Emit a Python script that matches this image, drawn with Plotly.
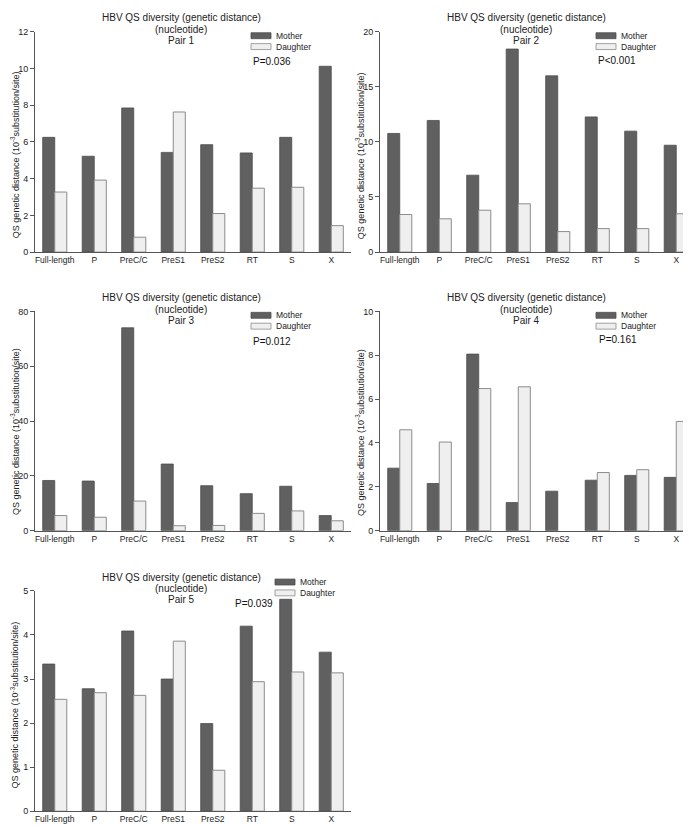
import plotly.graph_objects as go

# data (10^-3 substitution/site)
categories = ["Full-length", "P", "PreC/C", "PreS1", "PreS2", "RT", "S", "X"]

pair1_mother = [6.25, 5.22, 7.85, 5.43, 5.85, 5.40, 6.25, 10.12]
pair1_daughter = [3.27, 3.92, 0.81, 7.63, 2.10, 3.48, 3.53, 1.44]

pair2_mother = [10.77, 11.95, 6.98, 18.43, 16.00, 12.27, 10.98, 9.70]
pair2_daughter = [3.41, 3.02, 3.80, 4.38, 1.86, 2.13, 2.13, 3.48]

pair3_mother = [18.3, 18.1, 74.0, 24.3, 16.4, 13.5, 16.2, 5.5]
pair3_daughter = [5.5, 4.9, 10.8, 1.8, 1.9, 6.3, 7.2, 3.6]

pair4_mother = [2.85, 2.15, 8.05, 1.28, 1.80, 2.30, 2.52, 2.43]
pair4_daughter = [4.60, 4.04, 6.48, 6.56, None, 2.65, 2.78, 4.98]

pair5_mother = [3.34, 2.78, 4.09, 3.00, 1.99, 4.20, 4.81, 3.61]
pair5_daughter = [2.54, 2.69, 2.63, 3.86, 0.93, 2.94, 3.16, 3.14]

pair_names = ["Pair 1", "Pair 2", "Pair 3", "Pair 4", "Pair 5"]
p_values = ["P=0.036", "P<0.001", "P=0.012", "P=0.161", "P=0.039"]
y_max = [12, 20, 80, 10, 5]
y_step = [2, 5, 20, 2, 1]

mothers = [pair1_mother, pair2_mother, pair3_mother, pair4_mother, pair5_mother]
daughters = [pair1_daughter, pair2_daughter, pair3_daughter, pair4_daughter, pair5_daughter]

W, H = 691, 826
FONT = "Arial, Liberation Sans, sans-serif"

# plot areas in pixels: left, right, top, bottom
boxes = [(27, 343, 19, 242), (372, 688, 19, 242), (27, 343, 302, 524),
         (372, 688, 302, 524), (27, 343, 585, 808)]
# legend / p-value offsets from plot top-left (px)
leg_pos = [(216, 4), (216, 4), (216, 4), (216, 4), (240, -9)]
p_pos = [(216, 30), (216, 29), (216, 31), (217, 28), (198, 13)]
ylab_y = [0.44, 0.44, 0.45, 0.45, 0.48]

fig = go.Figure()
shapes = []
annotations = []

for i in range(5):
    n = "" if i == 0 else str(i + 1)
    xa, ya = "x" + n, "y" + n
    l, r, t, b = boxes[i]
    pw, ph = r - l, b - t

    fig.add_trace(go.Bar(x=categories, y=mothers[i], name="Mother", xaxis=xa, yaxis=ya,
                         marker=dict(color="#606060", line=dict(color="#4d4d4d", width=0.8)),
                         showlegend=False))
    fig.add_trace(go.Bar(x=categories, y=daughters[i], name="Daughter", xaxis=xa, yaxis=ya,
                         marker=dict(color="#efefef", line=dict(color="#8c8c8c", width=1)),
                         showlegend=False))

    fig.layout["xaxis" + n] = dict(
        domain=[l / W, r / W], anchor=ya, showline=True, linecolor="#555555",
        linewidth=1, ticks="", showgrid=False, zeroline=False,
        tickfont=dict(size=8.5, color="#222222"), fixedrange=True)
    fig.layout["yaxis" + n] = dict(
        domain=[1 - b / H, 1 - t / H], anchor=xa, range=[0, y_max[i]], dtick=y_step[i],
        showline=True, linecolor="#555555", linewidth=1, ticks="outside", ticklen=4,
        tickcolor="#555555", showgrid=False, zeroline=False,
        tickfont=dict(size=9, color="#222222"), fixedrange=True)

    xd, yd = xa + " domain", ya + " domain"

    # titles
    for txt, dy in zip(["HBV QS diversity (genetic distance)", "(nucleotide)", pair_names[i]],
                       [-14, -2, 9]):
        annotations.append(dict(text=txt, xref=xd, yref=yd, x=146 / pw, y=1 - dy / ph,
                                xanchor="center", yanchor="middle", showarrow=False,
                                font=dict(size=10, color="#222222", family=FONT)))

    # y-axis label
    annotations.append(dict(text="QS genetic distance (10<sup>-3</sup>substitution/site)",
                            xref=xd, yref=yd, x=0, y=ylab_y[i], xshift=-20, textangle=-90,
                            xanchor="center", yanchor="middle", showarrow=False,
                            font=dict(size=9, color="#222222", family=FONT)))

    # legend
    lx, ly = leg_pos[i]
    for k, (nm, fc, lc) in enumerate([("Mother", "#606060", "#4d4d4d"),
                                      ("Daughter", "#efefef", "#8c8c8c")]):
        cy = ly + k * 11
        shapes.append(dict(type="rect", xref=xd, yref=yd,
                           x0=lx / pw, x1=(lx + 20) / pw,
                           y0=1 - (cy + 3) / ph, y1=1 - (cy - 3) / ph,
                           fillcolor=fc, line=dict(color=lc, width=0.8)))
        annotations.append(dict(text=nm, xref=xd, yref=yd, x=(lx + 23) / pw, y=1 - cy / ph,
                                xanchor="left", yanchor="middle", showarrow=False,
                                font=dict(size=8.5, color="#222222", family=FONT)))

    # p-value
    px, py = p_pos[i]
    annotations.append(dict(text=p_values[i], xref=xd, yref=yd, x=px / pw, y=1 - py / ph,
                            xanchor="left", yanchor="middle", showarrow=False,
                            font=dict(size=10, color="#111111", family=FONT)))

fig.update_layout(
    width=W, height=H,
    margin=dict(l=0, r=0, t=0, b=0),
    paper_bgcolor="white", plot_bgcolor="white",
    barmode="group", bargap=0.39, bargroupgap=0,
    font=dict(family=FONT, color="#222222"),
    shapes=shapes, annotations=annotations,
)

fig.write_html("out.html")
